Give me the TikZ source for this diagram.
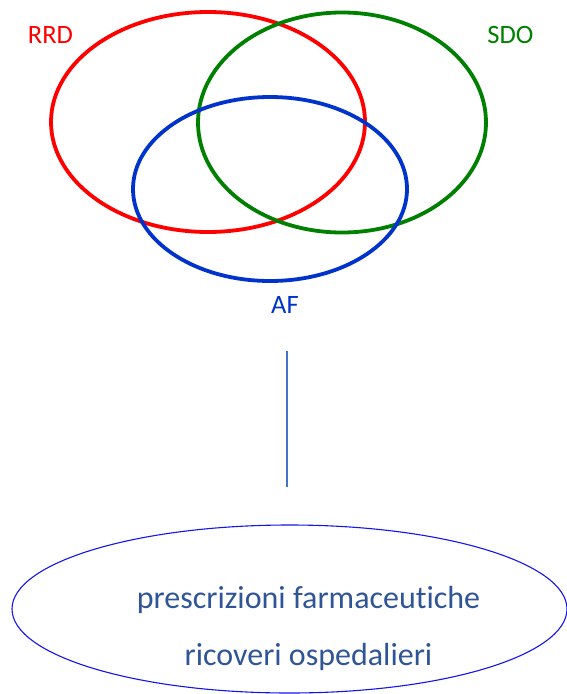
\documentclass[tikz,border=0pt]{standalone}
\usepackage{fontspec}
\setmainfont{Carlito}[Ligatures=NoCommon]
\usetikzlibrary{shapes.geometric}
\definecolor{rrdred}{RGB}{255,0,0}
\definecolor{sdogreen}{RGB}{0,128,0}
\definecolor{afblue}{RGB}{0,51,204}
\definecolor{linkblue}{RGB}{68,114,196}
\definecolor{outerblue}{RGB}{20,20,240}
\definecolor{textblue}{RGB}{47,85,151}
\tikzset{
  setring/.style={draw=#1, ellipse, inner sep=0pt, line width=3.8pt},
  setlabel/.style={text=#1, anchor=base, font=\fontsize{26.5}{30}\selectfont, inner sep=0pt},
  itemtext/.style={text=textblue, anchor=base, font=\fontsize{32}{36}\selectfont, inner sep=0pt}
}
\begin{document}
\begin{tikzpicture}[x=1pt, y=-1pt]
\useasboundingbox (0,0) rectangle (567,694);

% three overlapping data sources
\node[setring=rrdred, minimum width=314pt, minimum height=220pt] (rrd) at (208,122) {};
\node[setring=sdogreen, minimum width=288pt, minimum height=220pt] (sdo) at (342,122.5) {};
\node[setring=afblue, minimum width=274pt, minimum height=184pt] (af) at (270,189) {};

\node[setlabel=rrdred] (rrdlabel) at (50.5,43) {RRD};
\node[setlabel=sdogreen] (sdolabel) at (510.5,43) {SDO};
\node[setlabel=afblue] (aflabel) at (285,313) {AF};

% link to the derived records
\coordinate (linktop) at (287,351);
\coordinate (linkbottom) at (287,487);
\draw[linkblue, line width=2pt] (linktop) -- (linkbottom);

\node[draw=outerblue, ellipse, inner sep=0pt, line width=1.1pt,
      minimum width=555pt, minimum height=168pt] (records) at (289.5,609) {};
\node[itemtext] (presc) at (308.5,608) {prescrizioni farmaceutiche};
\node[itemtext] (ricov) at (308.5,665) {ricoveri ospedalieri};
\end{tikzpicture}
\end{document}
